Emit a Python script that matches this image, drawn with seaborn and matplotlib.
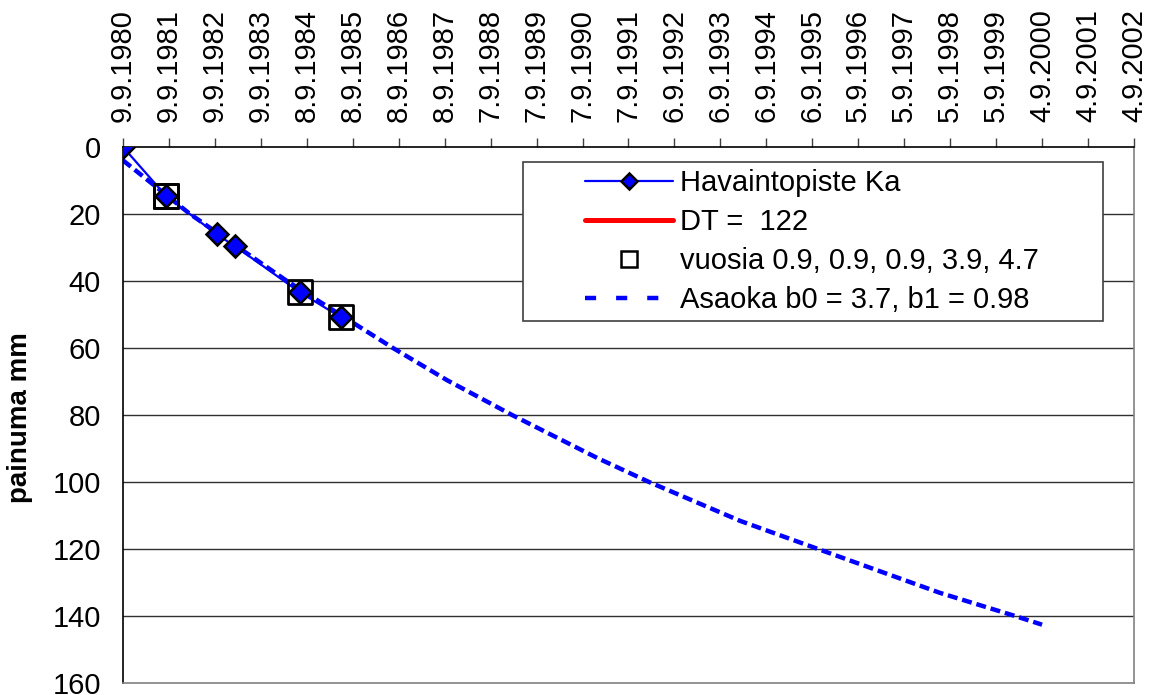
import pandas as pd
import seaborn as sns
import matplotlib.pyplot as plt
from matplotlib.lines import Line2D
from matplotlib.legend_handler import HandlerLine2D

# x = days since 9.9.1980, y = settlement (mm)
obs_days = [0, 341, 744, 890, 1406, 1729]
obs_mm = [0, 14.6, 26.1, 29.6, 43.4, 50.8]

square_days = [341, 341, 341, 1406, 1729]
square_mm = [14.6, 14.6, 14.6, 43.4, 50.8]

asaoka_days = [0, 532, 1302, 2144, 2573, 3090, 3765, 4178, 4901, 5520, 6489, 7085, 7300]
asaoka_mm = [4, 20, 40, 60, 69.6, 80, 92.8, 100, 111.6, 120, 133.1, 140, 142.6]

tick_labels = ['9.9.1980', '9.9.1981', '9.9.1982', '9.9.1983', '8.9.1984', '8.9.1985',
               '8.9.1986', '8.9.1987', '7.9.1988', '7.9.1989', '7.9.1990', '7.9.1991',
               '6.9.1992', '6.9.1993', '6.9.1994', '6.9.1995', '5.9.1996', '5.9.1997',
               '5.9.1998', '5.9.1999', '4.9.2000', '4.9.2001', '4.9.2002']
y_ticks = [0, 20, 40, 60, 80, 100, 120, 140, 160]

sns.set_style("white")
plt.rcParams['font.family'] = ['Liberation Sans', 'DejaVu Sans']
plt.rcParams.update({'text.color': 'black', 'axes.labelcolor': 'black',
                     'xtick.color': 'black', 'ytick.color': 'black'})

tick_dates = pd.to_datetime(tick_labels, format='%d.%m.%Y')
tick_pos = (tick_dates - tick_dates[0]).days

df_obs = pd.DataFrame({'day': obs_days, 'mm': obs_mm})
df_sq = pd.DataFrame({'day': square_days, 'mm': square_mm})
df_as = pd.DataFrame({'day': asaoka_days, 'mm': asaoka_mm})

fig = plt.figure(figsize=(11.55, 6.95), dpi=100)
ax = fig.add_axes([0.1065, 0.0173, 0.8753, 0.7712])

for y in y_ticks[1:-1]:
    ax.axhline(y, color='#303030', lw=1, zorder=0)

sns.lineplot(data=df_as, x='day', y='mm', ax=ax, color='#0000FF', lw=3.2,
             linestyle=(0, (2.25, 1.1)), zorder=2)
sns.lineplot(data=df_obs, x='day', y='mm', ax=ax, color='#0000FF', lw=1.6,
             marker='D', markersize=11, markerfacecolor='#0000FF',
             markeredgecolor='black', markeredgewidth=1.8, zorder=3)
sns.scatterplot(data=df_sq, x='day', y='mm', ax=ax, marker='s', s=300,
                facecolor='none', edgecolor='black', linewidth=2, zorder=4)

ax.set_xlim(tick_pos[0], tick_pos[-1])
ax.set_ylim(160, 0)
ax.set_xticks(tick_pos)
ax.set_xticklabels(tick_labels, rotation=90)
ax.xaxis.tick_top()
ax.set_yticks(y_ticks)
ax.tick_params(axis='x', direction='out', length=6.5, width=1, pad=11.5, labelsize=21, color='#404040')
ax.tick_params(axis='y', direction='out', length=6, width=1, pad=10, labelsize=21, color='#404040')
ax.set_xlabel('')
ax.set_ylabel('painuma mm', fontsize=20, fontweight='bold')
ax.yaxis.set_label_coords(-0.089, 0.496)

ax.spines['left'].set_color('black')
ax.spines['top'].set_color('black')
ax.spines['right'].set_color('#808080')
ax.spines['bottom'].set_color('#808080')
for s in ax.spines.values():
    s.set_linewidth(1.2)

handles = [
    Line2D([], [], color='#0000FF', lw=1.6, marker='D', markersize=8.5,
           markerfacecolor='#0000FF', markeredgecolor='black', markeredgewidth=1.8),
    Line2D([], [], color='red', lw=3.6),
    Line2D([], [], color='black', lw=0, marker='s', markersize=12,
           markerfacecolor='none', markeredgewidth=1.8),
    Line2D([], [], color='#0000FF', lw=3.2, linestyle=(0, (2.5, 4.5))),
]
labels = ['Havaintopiste Ka', 'DT =  122', 'vuosia 0.9, 0.9, 0.9, 3.9, 4.7',
          'Asaoka b0 = 3.7, b1 = 0.98']
pad_handler = HandlerLine2D(xpad=1.9)
leg = ax.legend(handles, labels, loc='upper left',
                bbox_to_anchor=(0.3956, 0.6884, 0.5737, 0.2836), mode='expand',
                handler_map={h: pad_handler for h in handles},
                fontsize=21, frameon=True, fancybox=False, framealpha=1,
                edgecolor='#404040', handlelength=4.9, handletextpad=0.25,
                labelspacing=0.38, borderpad=0.24, borderaxespad=0)
leg.get_frame().set_linewidth(1.2)

fig.savefig('out.png', dpi=100)
